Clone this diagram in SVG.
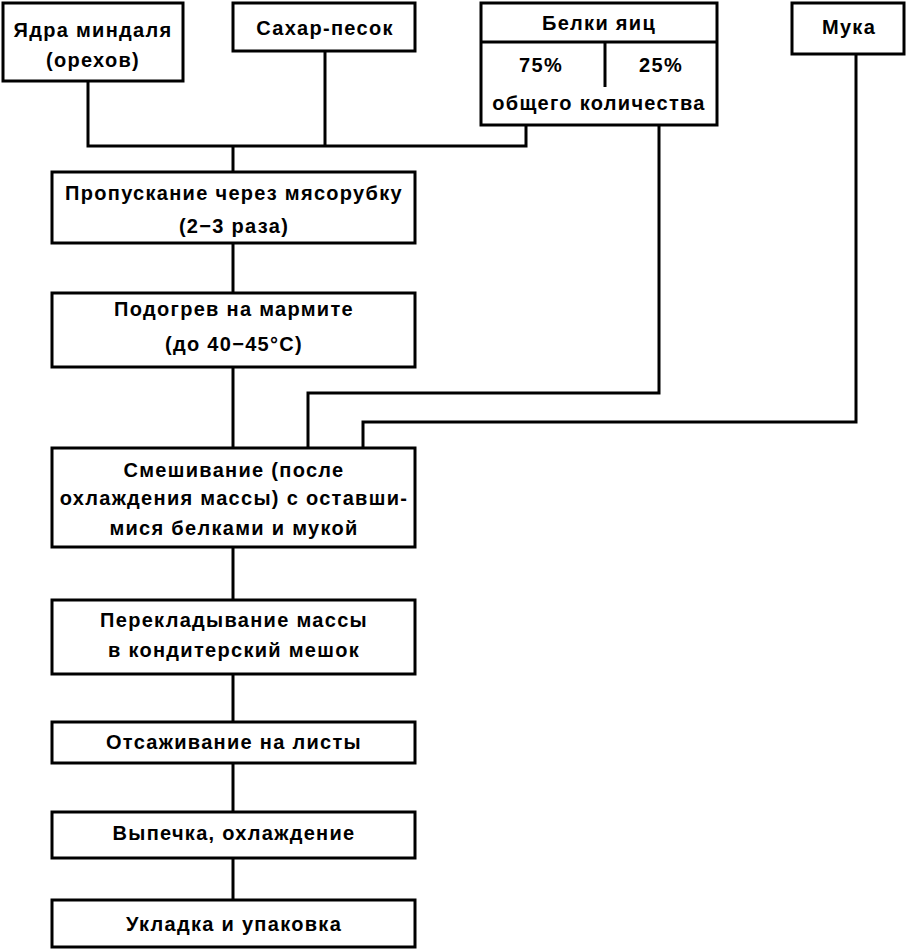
<svg xmlns="http://www.w3.org/2000/svg" width="907" height="949" viewBox="0 0 907 949">
<style>
.b{fill:#fff;stroke:#000;stroke-width:3}
.c{fill:none;stroke:#000;stroke-width:3}
text{font-family:"Liberation Sans",Arial,sans-serif;font-weight:bold;font-size:20px;letter-spacing:1.3px;fill:#000;text-anchor:middle}
</style>
<rect width="907" height="949" fill="#fff"/>
<g id="connectors">
<polyline class="c" points="88,81 88,146 526,146 526,125"/>
<line class="c" x1="325" y1="51" x2="325" y2="146"/>
<line class="c" x1="233" y1="146" x2="233" y2="172"/>
<line class="c" x1="233" y1="243" x2="233" y2="293"/>
<line class="c" x1="233" y1="367" x2="233" y2="448"/>
<polyline class="c" points="659,125 659,393 308,393 308,448"/>
<polyline class="c" points="856,54 856,422 363,422 363,448"/>
<line class="c" x1="233" y1="547" x2="233" y2="600"/>
<line class="c" x1="233" y1="674" x2="233" y2="722"/>
<line class="c" x1="233" y1="763" x2="233" y2="812"/>
<line class="c" x1="233" y1="858" x2="233" y2="900"/>
</g>
<g id="n1"><rect class="b" x="3" y="3" width="180" height="78"/><text x="93" y="37">Ядра миндаля</text><text x="93" y="67">(орехов)</text></g>
<g id="n2"><rect class="b" x="233" y="3" width="182" height="48"/><text x="325" y="35">Сахар-песок</text></g>
<g id="n3"><rect class="b" x="481" y="3" width="236" height="122"/><line class="c" x1="481" y1="42" x2="717" y2="42"/><line class="c" x1="605" y1="42" x2="605" y2="87"/><text x="599" y="30">Белки яиц</text><text x="541" y="72">75%</text><text x="661" y="72">25%</text><text x="599" y="110">общего количества</text></g>
<g id="n4"><rect class="b" x="792" y="3" width="112" height="51"/><text x="849" y="34">Мука</text></g>
<g id="n5"><rect class="b" x="52" y="172" width="363" height="71"/><text x="234" y="200">Пропускание через мясорубку</text><text x="234" y="233">(2−3 раза)</text></g>
<g id="n6"><rect class="b" x="52" y="293" width="363" height="74"/><text x="234" y="316">Подогрев на мармите</text><text x="234" y="351">(до 40−45°С)</text></g>
<g id="n7"><rect class="b" x="52" y="448" width="363" height="99"/><text x="234" y="477">Смешивание (после</text><text x="234" y="505">охлаждения массы) с оставши-</text><text x="234" y="535">мися белками и мукой</text></g>
<g id="n8"><rect class="b" x="52" y="600" width="363" height="74"/><text x="234" y="627">Перекладывание массы</text><text x="234" y="657">в кондитерский мешок</text></g>
<g id="n9"><rect class="b" x="52" y="722" width="363" height="41"/><text x="234" y="749">Отсаживание на листы</text></g>
<g id="n10"><rect class="b" x="52" y="812" width="363" height="46"/><text x="234" y="840">Выпечка, охлаждение</text></g>
<g id="n11"><rect class="b" x="52" y="900" width="363" height="47"/><text x="234" y="931">Укладка и упаковка</text></g>
</svg>
